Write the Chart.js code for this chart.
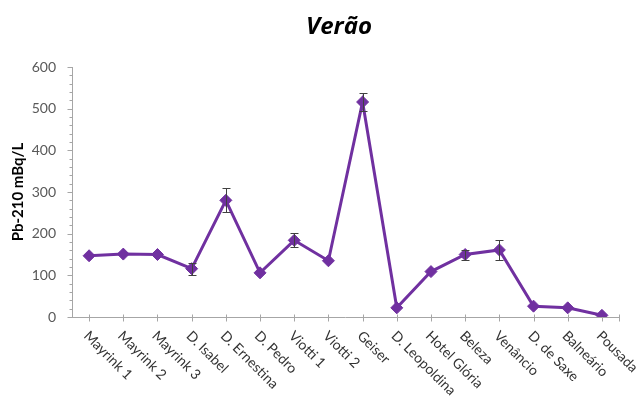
<!DOCTYPE html>
<html>
<head>
<meta charset="utf-8">
<script src="https://cdn.jsdelivr.net/npm/chart.js@4/dist/chart.umd.min.js"></script>
<style>
  html, body { margin: 0; padding: 0; background: #ffffff; }
  #wrap { width: 643px; height: 398px; position: relative; }
</style>
</head>
<body>
<div id="wrap"><canvas id="c" width="643" height="398"></canvas></div>
<script>
// Pb-210 activity per sampling point, summer campaign
const chartTitle = 'Verão';
const yAxisTitle = 'Pb-210 mBq/L';
const sites = ['Mayrink 1', 'Mayrink 2', 'Mayrink 3', 'D. Isabel', 'D. Ernestina', 'D. Pedro',
  'Viotti 1', 'Viotti 2', 'Geiser', 'D. Leopoldina', 'Hotel Glória', 'Beleza', 'Venâncio',
  'D. de Saxe', 'Balneário', 'Pousada'];
const pb210 = [147, 151, 150, 116, 280, 106, 184, 135, 516, 22, 109, 150, 161, 26, 22, 4];
const pb210Err = [0, 0, 0, 14, 29, 0, 17, 0, 21, 0, 0, 12, 24, 0, 0, 0];
const yTicks = [0, 100, 200, 300, 400, 500, 600];

const PURPLE = '#7030A0';
const AXIS = '#A6A6A6';

// Error bars, axis tick marks, rotated category labels and the title
const decorations = {
  id: 'decorations',
  beforeDatasetsDraw(chart) {
    const { ctx, scales: { x, y }, chartArea } = chart;
    ctx.save();
    ctx.strokeStyle = AXIS;
    ctx.lineWidth = 1;
    // y axis line and tick marks (major every 100, minor every 20)
    const ax = Math.round(chartArea.left) + 0.5;
    ctx.beginPath();
    ctx.moveTo(ax, y.getPixelForValue(600));
    ctx.lineTo(ax, y.getPixelForValue(0));
    for (let v = 0; v <= 600; v += 20) {
      const py = Math.round(y.getPixelForValue(v)) + 0.5;
      const major = v % 100 === 0;
      ctx.moveTo(ax - (major ? 5 : 3), py);
      ctx.lineTo(ax, py);
    }
    // x axis line and tick marks at each site, plus the closing tick
    const by = Math.round(y.getPixelForValue(0)) + 0.5;
    ctx.moveTo(chartArea.left, by);
    ctx.lineTo(chartArea.right, by);
    sites.forEach((s, i) => {
      const px = Math.round(x.getPixelForValue(i)) + 0.5;
      ctx.moveTo(px, by - 3);
      ctx.lineTo(px, by + 4);
    });
    const ex = Math.round(chartArea.right) + 0.5;
    ctx.moveTo(ex, by - 3);
    ctx.lineTo(ex, by + 4);
    ctx.stroke();

    // category labels, slanted downward to the right
    ctx.fillStyle = '#333333';
    ctx.font = '14px Lato, "Open Sans", sans-serif';
    ctx.textAlign = 'left';
    ctx.textBaseline = 'middle';
    sites.forEach((s, i) => {
      const px = x.getPixelForValue(i);
      ctx.save();
      ctx.translate(px - 3, by + 16);
      ctx.rotate(Math.PI / 4);
      ctx.fillText(s, 0, 0);
      ctx.restore();
    });

    // title
    ctx.fillStyle = '#000000';
    ctx.font = 'italic bold 24px "Open Sans", Lato, sans-serif';
    ctx.textAlign = 'center';
    ctx.textBaseline = 'middle';
    ctx.fillText(chartTitle, 339, 27);
    ctx.restore();
  },
  afterDatasetsDraw(chart) {
    const { ctx, scales: { x, y } } = chart;
    ctx.save();
    ctx.strokeStyle = '#404040';
    ctx.lineWidth = 1;
    ctx.beginPath();
    pb210.forEach((v, i) => {
      const e = pb210Err[i];
      if (!e) return;
      const px = Math.round(x.getPixelForValue(i)) + 0.5;
      const top = Math.round(y.getPixelForValue(v + e)) + 0.5;
      const bot = Math.round(y.getPixelForValue(v - e)) + 0.5;
      ctx.moveTo(px, top); ctx.lineTo(px, bot);
      ctx.moveTo(px - 4, top); ctx.lineTo(px + 4, top);
      ctx.moveTo(px - 4, bot); ctx.lineTo(px + 4, bot);
    });
    ctx.stroke();
    ctx.restore();
  }
};

new Chart(document.getElementById('c'), {
  type: 'line',
  data: {
    labels: sites,
    datasets: [{
      data: pb210,
      borderColor: PURPLE,
      backgroundColor: PURPLE,
      borderWidth: 3,
      pointStyle: 'rectRot',
      pointRadius: 6,
      pointHoverRadius: 6,
      pointBorderWidth: 1,
      tension: 0,
      fill: false
    }]
  },
  options: {
    responsive: false,
    animation: false,
    events: [],
    layout: { padding: { top: 67, right: 24, left: 0, bottom: 0 } },
    plugins: { legend: { display: false }, tooltip: { enabled: false }, title: { display: false } },
    scales: {
      x: {
        type: 'category',
        offset: true,
        border: { display: false },
        grid: { display: false, offset: false },
        ticks: { display: false },
        afterFit(scale) { scale.height = 81; }
      },
      y: {
        min: 0,
        max: 600,
        border: { display: false },
        grid: { display: false },
        afterBuildTicks(scale) { scale.ticks = yTicks.map(v => ({ value: v })); },
        ticks: {
          color: '#595959',
          font: { family: 'Lato, "Open Sans", sans-serif', size: 14 },
          padding: 8
        },
        title: {
          display: true,
          text: yAxisTitle,
          color: '#000000',
          font: { family: 'Lato, "Open Sans", sans-serif', size: 15, weight: 'bold' },
          padding: { top: 9, bottom: 0 }
        },
        afterFit(scale) { scale.width = 72; }
      }
    }
  },
  plugins: [decorations]
});
</script>
</body>
</html>
